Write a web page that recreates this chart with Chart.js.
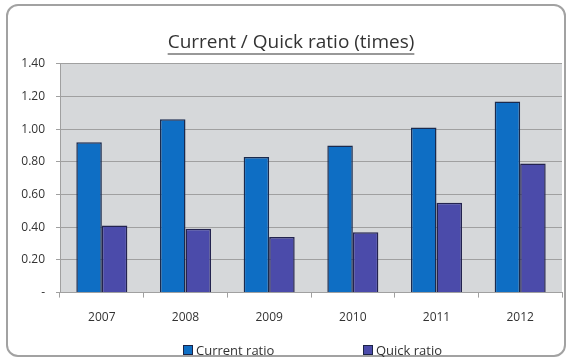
<!DOCTYPE html>
<html>
<head>
<meta charset="utf-8">
<script src="https://cdn.jsdelivr.net/npm/chart.js@4.4.1/dist/chart.umd.min.js"></script>
<style>
  body { margin: 0; background: #fff; }
  #wrap { position: relative; width: 570px; height: 363px; }
  #frame {
    position: absolute; left: 6px; top: 4px; width: 560px; height: 353px;
    box-sizing: border-box; border: 2px solid #a2a2a2; border-radius: 12px;
    pointer-events: none;
  }
  #myChart { position: absolute; left: 0; top: 0; }
  .leg {
    position: absolute; top: 341px; font: 13px "Open Sans", sans-serif; color: #333;
    display: flex; align-items: center; white-space: nowrap;
  }
  .leg i { display: inline-block; width: 8px; height: 8px; margin-right: 3px; border: 1px solid #1c2446; }
</style>
</head>
<body>
<div id="wrap">
  <canvas id="myChart" width="570" height="363"></canvas>
  <div id="frame"></div>
  <div id="legend"></div>
</div>
<script>
const years = ["2007", "2008", "2009", "2010", "2011", "2012"];
const currentRatio = [0.92, 1.06, 0.83, 0.90, 1.01, 1.17];
const quickRatio = [0.41, 0.39, 0.34, 0.37, 0.55, 0.79];
const seriesNames = ["Current ratio", "Quick ratio"];
const seriesColors = ["#0e6ec4", "#4b4baa"];
const legendLeft = [183, 363];
const titleText = "Current / Quick ratio (times)";

const fontFamily = '"Open Sans", sans-serif';

// gray plot area like the excel chart
const plotBg = {
  id: "plotBg",
  beforeDraw(chart) {
    const { ctx, chartArea: a } = chart;
    ctx.save();
    ctx.fillStyle = "#d6d8da";
    ctx.fillRect(a.left, a.top, a.right - a.left, a.bottom - a.top);
    ctx.restore();
  }
};

// chart.js titles have no underline, so add one
const titleUnderline = {
  id: "titleUnderline",
  afterDraw(chart) {
    const t = chart.titleBlock;
    if (!t) return;
    const ctx = chart.ctx;
    const font = t.options.font;
    ctx.save();
    ctx.font = font.size + "px " + fontFamily;
    const w = ctx.measureText(titleText).width;
    const cx = (t.left + t.right) / 2;
    ctx.strokeStyle = "#333";
    ctx.lineWidth = 1.2;
    ctx.beginPath();
    ctx.moveTo(cx - w / 2, 54);
    ctx.lineTo(cx + w / 2, 54);
    ctx.stroke();
    ctx.restore();
  }
};

function buildLegend() {
  const el = document.getElementById("legend");
  el.innerHTML = seriesNames.map((name, i) =>
    `<span class="leg" style="left:${legendLeft[i]}px"><i style="background:${seriesColors[i]}"></i>${name}</span>`
  ).join("");
}

function displayChart() {
  new Chart("myChart", {
    type: "bar",
    data: {
      labels: years,
      datasets: [
        {
          label: seriesNames[0],
          data: currentRatio,
          backgroundColor: seriesColors[0],
          borderColor: "#1a2a4e",
          borderWidth: 1.5,
        },
        {
          label: seriesNames[1],
          data: quickRatio,
          backgroundColor: seriesColors[1],
          borderColor: "#23234f",
          borderWidth: 1.5,
        },
      ],
    },
    options: {
      responsive: false,
      animation: false,
      layout: { padding: { left: 20, right: 8, top: 0, bottom: 25 } },
      datasets: { bar: { categoryPercentage: 0.61, barPercentage: 1.0 } },
      plugins: {
        legend: { display: false },
        tooltip: { enabled: false },
        title: {
          display: true,
          text: titleText,
          color: "#333",
          font: { family: fontFamily, size: 19, weight: "normal" },
          padding: { top: 31, bottom: 10 },
        },
      },
      scales: {
        x: {
          grid: { drawOnChartArea: false, tickLength: 5, color: "#a0a0a0" },
          border: { color: "#a0a0a0", width: 1 },
          ticks: { color: "#333", padding: 13, font: { family: fontFamily, size: 12 } },
        },
        y: {
          min: 0,
          max: 1.4,
          afterFit(scale) { scale.width = 40; },
          grid: { color: "#a0a0a0", lineWidth: 1, tickLength: 4 },
          border: { color: "#a0a0a0", width: 1 },
          ticks: {
            stepSize: 0.2,
            color: "#333",
            padding: 11,
            font: { family: fontFamily, size: 12 },
            callback: (v) => (v === 0 ? "-" : v.toFixed(2)),
          },
        },
      },
    },
    plugins: [plotBg, titleUnderline],
  });
}

buildLegend();
displayChart();
</script>
</body>
</html>
